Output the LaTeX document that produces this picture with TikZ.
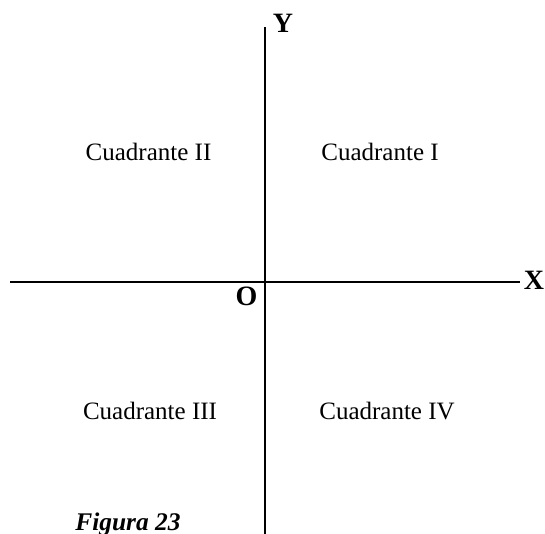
\documentclass[tikz,border=0pt]{standalone}
\usepackage{fontspec}
\setmainfont{Liberation Serif}
\begin{document}
\begin{tikzpicture}[
        x=0.5pt, y=-0.5pt,
        axis/.style={draw, line width=1pt},
        quadrant/.style={anchor=base, inner sep=0pt, font=\fontsize{12.5}{15}\selectfont},
        axislabel/.style={anchor=base, inner sep=0pt, font=\fontsize{14}{16}\selectfont\bfseries}
    ]
        \useasboundingbox (0,0) rectangle (545,534);

        \coordinate (xStart) at (10,282);
        \coordinate (xEnd) at (520,282);
        \coordinate (yStart) at (264.5,534);
        \coordinate (yEnd) at (264.5,27);
        \draw[axis] (xStart) -- (xEnd);
        \draw[axis] (yStart) -- (yEnd);

        \node[axislabel] (labelX) at (534,289) {X};
        \node[axislabel] (labelY) at (283,33) {Y};
        \node[axislabel] (origin) at (246.5,305) {O};

        \node[quadrant] (quadI) at (380,161) {Cuadrante I};
        \node[quadrant] (quadII) at (148.5,161) {Cuadrante II};
        \node[quadrant] (quadIII) at (150,419) {Cuadrante III};
        \node[quadrant] (quadIV) at (387,419) {Cuadrante IV};

        \node[anchor=base west, inner sep=0pt,
            font=\fontsize{12.7}{15}\selectfont\bfseries\itshape]
            (caption) at (75,530) {Figura 23};
    \end{tikzpicture}
\end{document}
